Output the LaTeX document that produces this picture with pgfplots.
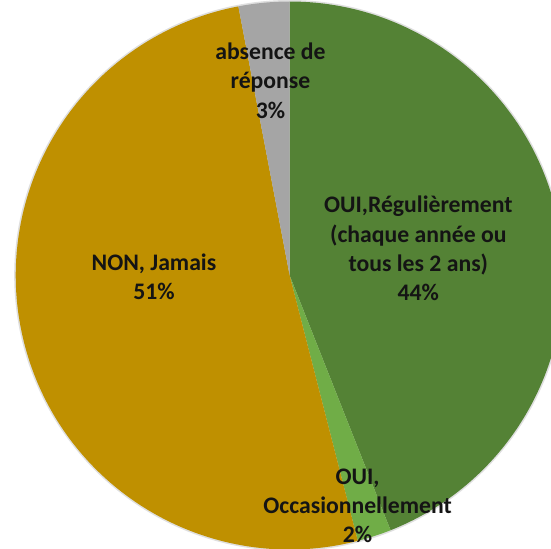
\documentclass[border=0pt]{standalone}
\usepackage{pgfplots}
\pgfplotsset{compat=1.18}
\usepackage{fontspec}
\setmainfont{Carlito}
\definecolor{cReg}{HTML}{548235}
\definecolor{cOcc}{HTML}{70AD47}
\definecolor{cNon}{HTML}{BF9000}
\definecolor{cAbs}{HTML}{A5A5A5}
\definecolor{cTxt}{HTML}{141414}
% values (percent)
\def\vReg{44}
\def\vOcc{2}
\def\vNon{51}
\def\vAbs{3}
\def\R{270.5bp}
\begin{document}
\begin{tikzpicture}
\begin{axis}[width=551bp, height=545bp,
  scale only axis, xmin=0, xmax=551, ymin=0, ymax=545, y dir=reverse,
  hide axis, clip=true, clip bounding box=upper bound]
\fill[gray!25] (axis cs:293,275.5) circle[radius=272bp];
\fill[cReg] (axis cs:293,275.5) -- ++(90:\R)
  arc[start angle=90, end angle={90-3.6*\vReg}, radius=\R] -- cycle;
\fill[cOcc] (axis cs:293,275.5) -- ++({90-3.6*\vReg}:\R)
  arc[start angle={90-3.6*\vReg}, end angle={90-3.6*(\vReg+\vOcc)}, radius=\R] -- cycle;
\fill[cNon] (axis cs:293,275.5) -- ++({90-3.6*(\vReg+\vOcc)}:\R)
  arc[start angle={90-3.6*(\vReg+\vOcc)}, end angle={90-3.6*(\vReg+\vOcc+\vNon)}, radius=\R] -- cycle;
\fill[cAbs] (axis cs:293,275.5) -- ++({90-3.6*(\vReg+\vOcc+\vNon)}:\R)
  arc[start angle={90-3.6*(\vReg+\vOcc+\vNon)}, end angle={90-3.6*(\vReg+\vOcc+\vNon+\vAbs)}, radius=\R] -- cycle;
\tikzset{lbl/.style={align=center, text=cTxt, inner sep=0pt,
  font=\bfseries\fontsize{23.5}{29}\selectfont}}
\node[lbl] at (axis cs:274,83) {absence de\\réponse\\3\%};
\node[lbl] at (axis cs:420,249) {OUI,Régulièrement\\(chaque année ou\\tous les 2 ans)\\44\%};
\node[lbl] at (axis cs:159,277) {NON, Jamais\\51\%};
\node[lbl] at (axis cs:360,503) {OUI,\\Occasionnellement\\2\%};
\end{axis}
\end{tikzpicture}
\end{document}
